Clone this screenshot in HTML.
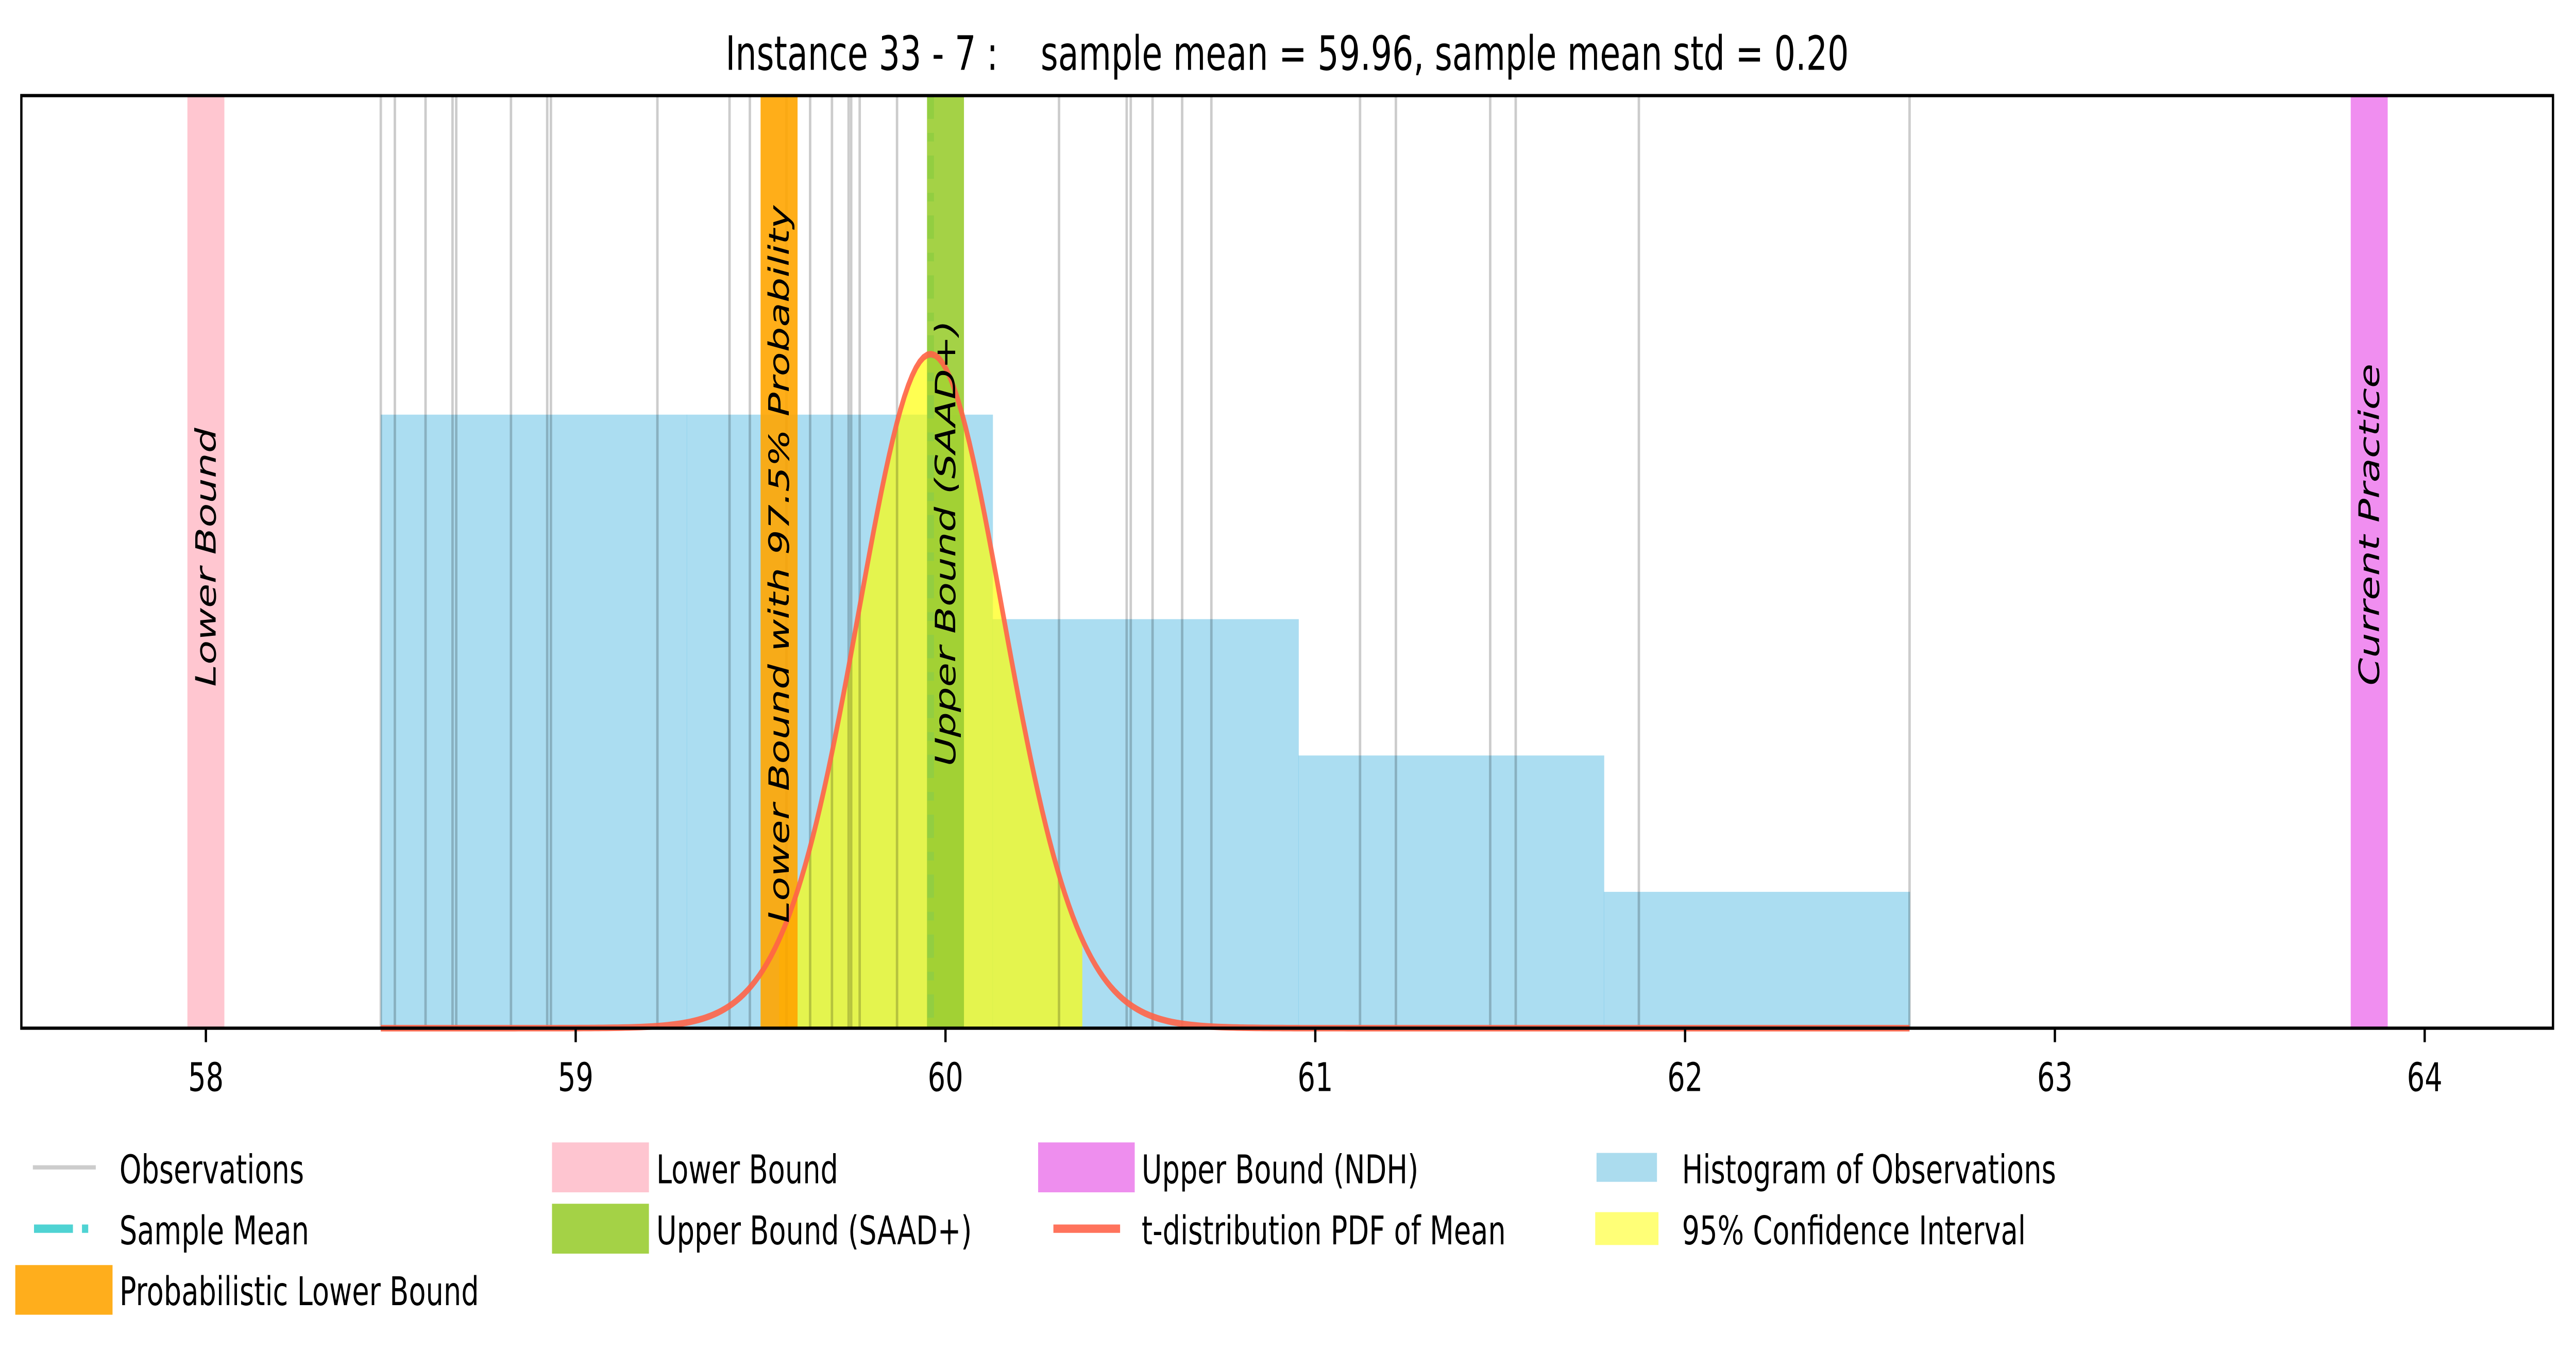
<!DOCTYPE html>
<html><head><meta charset="utf-8"><style>
html,body{margin:0;padding:0;background:#fff;overflow:hidden;width:100vw;height:100vh;}
svg{display:block;width:100vw;height:100vh;}
text{font-family:"DejaVu Sans","Liberation Sans",sans-serif;}
</style></head><body>
<svg id="chart" xmlns="http://www.w3.org/2000/svg" viewBox="0 0 1568 586.75" preserveAspectRatio="none">
<rect x="0" y="0" width="1568" height="586.75" fill="#fff"/>
<text x="783.5" y="30" font-size="20.4" text-anchor="middle" xml:space="preserve">Instance 33 - 7 :    sample mean = 59.96, sample mean std = 0.20</text>
<g id="plot"></g>
<g id="legend"></g>
</svg>
<script>
// ---- data ----
const observations = [58.473,58.511,58.594,58.667,58.677,58.825,58.923,58.933,59.221,
  59.416,59.471,59.57,59.634,59.693,59.738,59.745,59.768,59.869,
  60.307,60.490,60.501,60.560,60.640,60.719,
  61.121,61.218,61.473,61.542,61.875,62.607];
const binEdges = [58.473,59.300,60.127,60.954,61.780,62.607];
const binCounts = [9,9,6,4,2];
const sampleMean = 59.96;
const sampleStd = 0.20;
const dof = 29;
const ciBounds = [59.55,60.37];
const lowerBound = [57.95,58.05];
const probLowerBound = [59.50,59.60];
const upperSaad = [59.95,60.05];
const upperNdh = [63.80,63.90];
const xTicks = [58,59,60,61,62,63,64];
const pdfScale = 5;

// ---- axes ----
const AX = {l:13,r:1554,t:41,b:441};
const xMin = 57.501, xMax = 64.347, yMax = 13.68;
const sx = v => AX.l + (v - xMin) / (xMax - xMin) * (AX.r - AX.l);
const sy = c => AX.b - c / yMax * (AX.b - AX.t);
const NS = "http://www.w3.org/2000/svg";
const plot = document.getElementById('plot');
function mk(tag, attrs, parent){ const e=document.createElementNS(NS,tag); for(const k in attrs) e.setAttribute(k,attrs[k]); (parent||plot).appendChild(e); return e; }

function lgamma(z){const g=7,c=[0.99999999999980993,676.5203681218851,-1259.1392167224028,771.32342877765313,-176.61502916214059,12.507343278686905,-0.13857109526572012,9.9843695780195716e-6,1.5056327351493116e-7];
 z-=1; let x=c[0]; for(let i=1;i<g+2;i++) x+=c[i]/(z+i); const t=z+g+0.5; return 0.5*Math.log(2*Math.PI)+(z+0.5)*Math.log(t)-t+Math.log(x);}
function tpdf(x){const t=(x-sampleMean)/sampleStd; const lc=lgamma((dof+1)/2)-lgamma(dof/2)-0.5*Math.log(dof*Math.PI);
 return Math.exp(lc-(dof+1)/2*Math.log(1+t*t/dof))/sampleStd;}

// histogram
binCounts.forEach((c,i)=>{
  const r=mk('rect',{x:sx(binEdges[i]),y:sy(c),width:sx(binEdges[i+1])-sx(binEdges[i])+0.3,height:AX.b-sy(c),fill:'#87ceeb','fill-opacity':0.7});
  
  
});
// CI fill
{
  let d=`M${sx(ciBounds[0])},${sy(0)}`;
  const n=200;
  for(let i=0;i<=n;i++){const x=ciBounds[0]+(ciBounds[1]-ciBounds[0])*i/n; d+=` L${sx(x).toFixed(2)},${sy(tpdf(x)*pdfScale).toFixed(2)}`;}
  d+=` L${sx(ciBounds[1])},${sy(0)} Z`;
  const p=mk('path',{d:d,fill:'#ffff00','fill-opacity':0.68});
  
  
}
// observations
observations.forEach(v=>{
  const l=mk('line',{x1:sx(v),x2:sx(v),y1:AX.t,y2:AX.b,stroke:'#000','stroke-opacity':0.2,'stroke-width':1.5});
  
  
});
// sample mean
{
  const l=mk('line',{x1:sx(sampleMean),x2:sx(sampleMean),y1:AX.t,y2:AX.b,stroke:'#48d1cc','stroke-width':4,'stroke-dasharray':'10 6 3.7 6'});
  
  
}
// bands
function band(r,color,name,op){
  const e=mk('rect',{x:sx(r[0]),y:AX.t,width:sx(r[1])-sx(r[0]),height:AX.b-AX.t,fill:color,'fill-opacity':op});
  
  
}
band(lowerBound,'#ffc0cb','lower-bound-band',0.9);
band(probLowerBound,'#ffa500','probabilistic-lower-bound-band',0.9);
band(upperSaad,'#9acd32','upper-bound-saad-band',0.9);
band(upperNdh,'#ee82ee','upper-bound-ndh-band',0.9);
// pdf curve
{
  const lo=Math.min(...observations), hi=Math.max(...observations), n=400;
  let d='';
  for(let i=0;i<=n;i++){const x=lo+(hi-lo)*i/n; d+=(i?' L':'M')+sx(x).toFixed(2)+','+sy(tpdf(x)*pdfScale).toFixed(2);}
  const p=mk('path',{d:d,fill:'none',stroke:'#ff6347','stroke-opacity':0.9,'stroke-width':2.8});
  
  
}
// rotated labels
function vlabel(v,cy,txt,name){
  const x=sx(v);
  const t=mk('text',{x:x,y:cy,'font-size':17,'font-style':'italic','text-anchor':'middle','dominant-baseline':'central',transform:`rotate(-90 ${x} ${cy})`});
  t.textContent=txt;
  
  
}
vlabel((lowerBound[0]+lowerBound[1])/2,239,'Lower Bound','lower-bound-label');
vlabel((probLowerBound[0]+probLowerBound[1])/2,242,'Lower Bound with 97.5% Probability','probabilistic-lower-bound-label');
vlabel((upperSaad[0]+upperSaad[1])/2,233,'Upper Bound (SAAD+)','upper-bound-saad-label');
vlabel((upperNdh[0]+upperNdh[1])/2,225,'Current Practice','current-practice-label');
// frame
{
  const f=mk('rect',{x:AX.l,y:AX.t,width:AX.r-AX.l,height:AX.b-AX.t,fill:'none',stroke:'#000','stroke-width':1.4});
  
  
}
// ticks
xTicks.forEach(v=>{
  const x=sx(v);
  const tk=mk('line',{x1:x,x2:x,y1:AX.b,y2:AX.b+6,stroke:'#000','stroke-width':1.4});
  
  
  const tl=mk('text',{x:x,y:468,'font-size':17,'text-anchor':'middle'});
  tl.textContent=String(v);
  
  
});

// legend
const leg=document.getElementById('legend');
function legText(x,y,txt,name){const t=mk('text',{x:x,y:y,'font-size':17},leg);t.textContent=txt;}
function legRect(x,y,w,h,fill,name){const r=mk('rect',{x:x,y:y,width:w,height:h,fill:fill},leg);}
{
  const l=mk('line',{x1:20,x2:58.3,y1:500.7,y2:500.7,stroke:'#ccc','stroke-width':1.8},leg);
  
  
  const m=mk('line',{x1:20.7,x2:54,y1:527,y2:527,stroke:'#4fd3d3','stroke-width':3.6,'stroke-dasharray':'23.7 5.5 3.8 5.5'},leg);
  
  
  const p=mk('line',{x1:641.2,x2:681.8,y1:527,y2:527,stroke:'#ff735c','stroke-width':3.6},leg);
  
  
}
legText(72.7,507.5,'Observations','legend-observations-label');
legText(72.7,533.7,'Sample Mean','legend-sample-mean-label');
legRect(9.3,542.6,59.2,21.3,'#ffae1c','legend-probabilistic-lower-bound-handle');
legText(72.7,559.8,'Probabilistic Lower Bound','legend-probabilistic-lower-bound-label');
legRect(336,490,59,21.4,'#fec5d0','legend-lower-bound-handle');
legText(399.5,507.5,'Lower Bound','legend-lower-bound-label');
legRect(336,516.3,59,21.4,'#a4d246','legend-upper-bound-saad-handle');
legText(399.5,533.7,'Upper Bound (SAAD+)','legend-upper-bound-saad-label');
legRect(631.9,490,58.8,21.4,'#ee8eee','legend-upper-bound-ndh-handle');
legText(694.9,507.5,'Upper Bound (NDH)','legend-upper-bound-ndh-label');
legText(694.9,533.7,'t-distribution PDF of Mean','legend-pdf-label');
legRect(971.8,494.5,36.8,12.4,'#abdcee','legend-histogram-handle');
legText(1023.8,507.5,'Histogram of Observations','legend-histogram-label');
legRect(971,519.9,38.5,14.1,'#ffff77','legend-ci-handle');
legText(1023.8,533.7,'95% Confidence Interval','legend-ci-label');
</script>
</body></html>
